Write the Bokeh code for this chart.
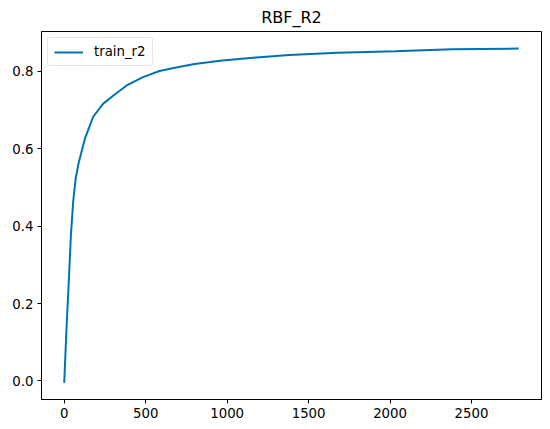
from bokeh.plotting import figure
from bokeh.models import Range1d, FixedTicker, PrintfTickFormatter, Legend, LegendItem
from bokeh.embed import file_html
from bokeh.resources import INLINE

# Data
iterations = [0, 15, 29, 41, 55, 70, 90, 127, 177, 238, 300, 381, 483, 585, 687,
              800, 970, 1180, 1380, 1680, 2030, 2380, 2790]
train_r2 = [-0.005, 0.146, 0.266, 0.377, 0.463, 0.523, 0.566, 0.626, 0.682, 0.716,
            0.737, 0.763, 0.785, 0.801, 0.810, 0.819, 0.828, 0.836, 0.842, 0.848,
            0.852, 0.857, 0.859]
x_ticks = [0, 500, 1000, 1500, 2000, 2500]
y_ticks = [0.0, 0.2, 0.4, 0.6, 0.8]
title_text = "RBF_R2"
series_name = "train_r2"

FONT = "DejaVu Sans"

p = figure(width=550, height=429, output_backend="svg", toolbar_location=None,
           x_range=Range1d(-139.5, 2929.5), y_range=Range1d(-0.048, 0.903),
           min_border_left=41, min_border_right=9, min_border_top=31,
           min_border_bottom=30)

p.title.text = title_text
p.title.align = "center"
p.title.text_font = FONT
p.title.text_font_size = "16px"
p.title.text_font_style = "normal"
p.title.text_color = "#000000"
p.title.offset = 0

r = p.line(iterations, train_r2, line_color="#0072B2", line_width=2)

legend = Legend(items=[LegendItem(label=series_name, renderers=[r])],
                location="top_left")
legend.label_text_font = FONT
legend.label_text_font_size = "13.3px"
legend.label_text_color = "#000000"
legend.glyph_width = 29
legend.glyph_height = 14
legend.label_standoff = 11
legend.padding = 6
legend.margin = 6
legend.border_line_color = "#cccccc"
legend.border_line_width = 1
legend.background_fill_alpha = 0.8
legend.border_radius = 3
p.add_layout(legend)

p.grid.visible = False
p.outline_line_color = "#000000"
p.outline_line_width = 1
p.outline_line_alpha = 1

for ax in (p.xaxis[0], p.yaxis[0]):
    ax.axis_line_color = "#000000"
    ax.major_tick_line_color = "#000000"
    ax.major_tick_out = 4
    ax.major_tick_in = 0
    ax.minor_tick_line_color = None
    ax.major_label_text_font = FONT
    ax.major_label_text_font_size = "13.3px"
    ax.major_label_text_color = "#000000"
    ax.major_label_standoff = 4

p.xaxis[0].ticker = FixedTicker(ticks=x_ticks)
p.yaxis[0].ticker = FixedTicker(ticks=y_ticks)
p.yaxis[0].formatter = PrintfTickFormatter(format="%.1f")

open("out.html", "w").write(file_html(p, INLINE))
